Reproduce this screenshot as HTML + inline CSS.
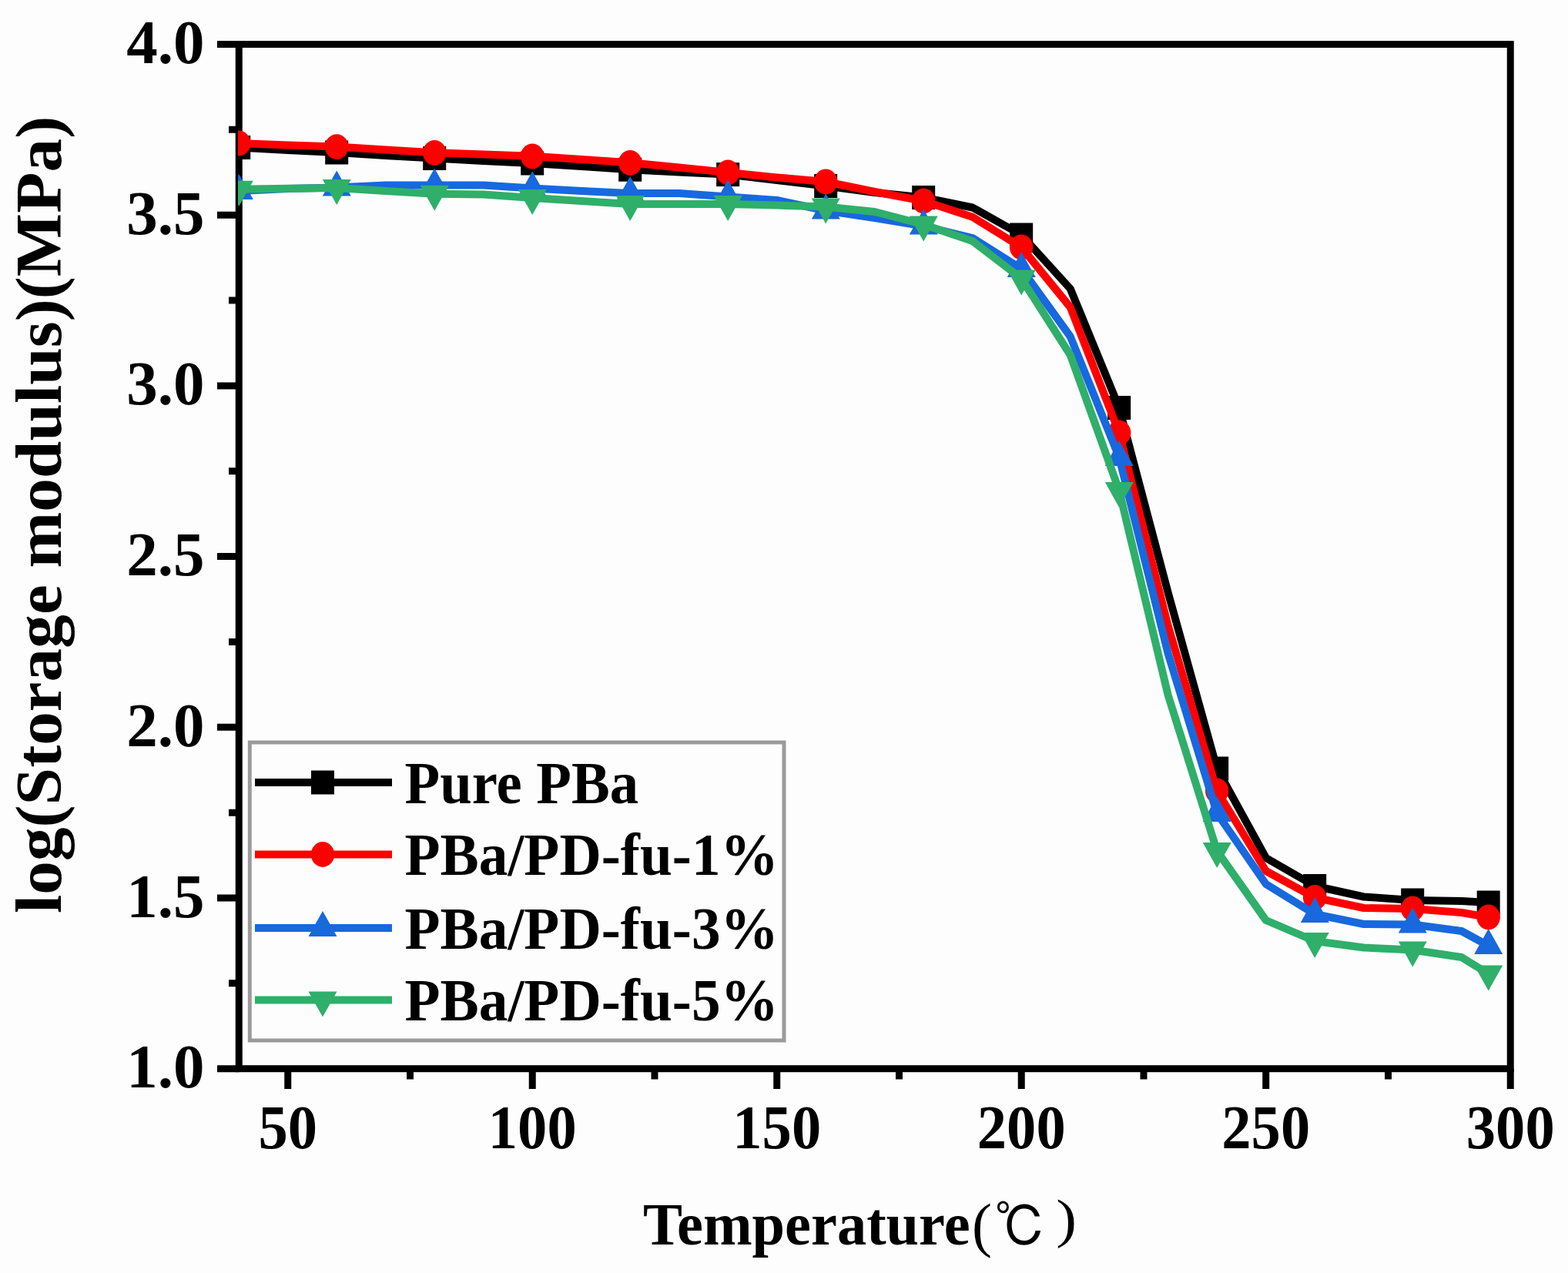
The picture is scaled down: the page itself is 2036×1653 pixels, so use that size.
<!DOCTYPE html><html><head><meta charset="utf-8"><title>log(Storage modulus) vs Temperature</title><style>html,body{margin:0;padding:0;background:#fdfdfd;overflow:hidden}svg{display:block;filter:blur(0.7px)}</style></head><body>
<svg width="2036" height="1653" viewBox="0 0 2036 1653">
<rect width="2036" height="1653" fill="#fdfdfd"/>
<defs><clipPath id="pc"><rect x="309" y="50" width="1660" height="1340"/></clipPath></defs>
<path d="M282,57.50H310.25 M282,279.20H310.25 M282,500.90H310.25 M282,722.60H310.25 M282,944.30H310.25 M282,1166.00H310.25 M282,1387.70H310.25 M297,168.35H310.25 M297,390.05H310.25 M297,611.75H310.25 M297,833.45H310.25 M297,1055.15H310.25 M297,1276.85H310.25 M373.75,1387.7V1414 M691.25,1387.7V1414 M1008.75,1387.7V1414 M1326.25,1387.7V1414 M1643.75,1387.7V1414 M1961.25,1387.7V1414 M532.50,1387.7V1401.5 M850.00,1387.7V1401.5 M1167.50,1387.7V1401.5 M1485.00,1387.7V1401.5 M1802.50,1387.7V1401.5" stroke="#000" stroke-width="9" fill="none"/>
<rect x="310.25" y="57.50" width="1651.00" height="1330.20" fill="none" stroke="#000" stroke-width="9"/>
<g clip-path="url(#pc)">
<path d="M310.2,191.5 L373.8,195.0 L437.2,198.0 L500.8,202.0 L564.2,205.5 L627.8,209.0 L691.2,212.0 L754.8,216.0 L818.2,220.2 L881.8,223.5 L945.2,226.6 L1008.8,234.0 L1072.2,241.5 L1135.8,250.0 L1199.2,256.5 L1262.8,269.5 L1326.2,305.0 L1389.8,375.0 L1453.2,529.5 L1516.8,770.0 L1580.2,998.0 L1643.8,1114.0 L1707.2,1150.5 L1770.8,1164.5 L1834.2,1169.0 L1897.8,1170.0 L1932.7,1172.0" stroke="#000" stroke-width="10" fill="none" stroke-linejoin="round"/>
<rect x="295.2" y="176.0" width="30" height="31" fill="#000"/><rect x="422.2" y="182.5" width="30" height="31" fill="#000"/><rect x="549.2" y="190.0" width="30" height="31" fill="#000"/><rect x="676.2" y="196.5" width="30" height="31" fill="#000"/><rect x="803.2" y="204.7" width="30" height="31" fill="#000"/><rect x="930.2" y="211.1" width="30" height="31" fill="#000"/><rect x="1057.2" y="226.0" width="30" height="31" fill="#000"/><rect x="1184.2" y="241.0" width="30" height="31" fill="#000"/><rect x="1311.2" y="289.5" width="30" height="31" fill="#000"/><rect x="1438.2" y="514.0" width="30" height="31" fill="#000"/><rect x="1565.2" y="982.5" width="30" height="31" fill="#000"/><rect x="1692.2" y="1135.0" width="30" height="31" fill="#000"/><rect x="1819.2" y="1153.5" width="30" height="31" fill="#000"/><rect x="1917.7" y="1156.5" width="30" height="31" fill="#000"/>
<path d="M310.2,186.0 L373.8,188.5 L437.2,190.6 L500.8,194.5 L564.2,198.3 L627.8,200.5 L691.2,202.8 L754.8,207.0 L818.2,211.3 L881.8,217.5 L945.2,224.0 L1008.8,230.5 L1072.2,236.0 L1135.8,249.0 L1199.2,261.0 L1262.8,281.8 L1326.2,321.0 L1389.8,399.0 L1453.2,562.0 L1516.8,813.0 L1580.2,1027.0 L1643.8,1131.0 L1707.2,1165.5 L1770.8,1179.0 L1834.2,1180.0 L1897.8,1185.0 L1932.7,1191.0" stroke="#ff0000" stroke-width="10" fill="none" stroke-linejoin="round"/>
<ellipse cx="310.2" cy="186.0" rx="15.2" ry="16.4" fill="#ff0000"/><ellipse cx="437.2" cy="190.6" rx="15.2" ry="16.4" fill="#ff0000"/><ellipse cx="564.2" cy="198.3" rx="15.2" ry="16.4" fill="#ff0000"/><ellipse cx="691.2" cy="202.8" rx="15.2" ry="16.4" fill="#ff0000"/><ellipse cx="818.2" cy="211.3" rx="15.2" ry="16.4" fill="#ff0000"/><ellipse cx="945.2" cy="224.0" rx="15.2" ry="16.4" fill="#ff0000"/><ellipse cx="1072.2" cy="236.0" rx="15.2" ry="16.4" fill="#ff0000"/><ellipse cx="1199.2" cy="261.0" rx="15.2" ry="16.4" fill="#ff0000"/><ellipse cx="1326.2" cy="321.0" rx="15.2" ry="16.4" fill="#ff0000"/><ellipse cx="1453.2" cy="562.0" rx="15.2" ry="16.4" fill="#ff0000"/><ellipse cx="1580.2" cy="1027.0" rx="15.2" ry="16.4" fill="#ff0000"/><ellipse cx="1707.2" cy="1165.5" rx="15.2" ry="16.4" fill="#ff0000"/><ellipse cx="1834.2" cy="1180.0" rx="15.2" ry="16.4" fill="#ff0000"/><ellipse cx="1932.7" cy="1191.0" rx="15.2" ry="16.4" fill="#ff0000"/>
<path d="M310.2,248.0 L373.8,245.0 L437.2,243.5 L500.8,240.5 L564.2,240.5 L627.8,240.5 L691.2,244.5 L754.8,248.0 L818.2,251.0 L881.8,251.0 L945.2,255.5 L1008.8,260.0 L1072.2,273.5 L1135.8,283.0 L1199.2,293.5 L1262.8,309.0 L1326.2,349.0 L1389.8,437.0 L1453.2,594.0 L1516.8,849.0 L1580.2,1056.0 L1643.8,1148.0 L1707.2,1187.0 L1770.8,1200.0 L1834.2,1200.5 L1897.8,1209.0 L1932.7,1228.0" stroke="#1868de" stroke-width="10" fill="none" stroke-linejoin="round"/>
<polygon points="310.2,226.0 291.8,259.0 328.8,259.0" fill="#1868de"/><polygon points="437.2,221.5 418.8,254.5 455.8,254.5" fill="#1868de"/><polygon points="564.2,218.5 545.8,251.5 582.8,251.5" fill="#1868de"/><polygon points="691.2,222.5 672.8,255.5 709.8,255.5" fill="#1868de"/><polygon points="818.2,229.0 799.8,262.0 836.8,262.0" fill="#1868de"/><polygon points="945.2,233.5 926.8,266.5 963.8,266.5" fill="#1868de"/><polygon points="1072.2,251.5 1053.8,284.5 1090.8,284.5" fill="#1868de"/><polygon points="1199.2,271.5 1180.8,304.5 1217.8,304.5" fill="#1868de"/><polygon points="1326.2,327.0 1307.8,360.0 1344.8,360.0" fill="#1868de"/><polygon points="1453.2,572.0 1434.8,605.0 1471.8,605.0" fill="#1868de"/><polygon points="1580.2,1034.0 1561.8,1067.0 1598.8,1067.0" fill="#1868de"/><polygon points="1707.2,1165.0 1688.8,1198.0 1725.8,1198.0" fill="#1868de"/><polygon points="1834.2,1178.5 1815.8,1211.5 1852.8,1211.5" fill="#1868de"/><polygon points="1932.7,1206.0 1914.2,1239.0 1951.2,1239.0" fill="#1868de"/>
<path d="M310.2,245.7 L373.8,244.8 L437.2,244.0 L500.8,248.0 L564.2,251.7 L627.8,252.5 L691.2,257.0 L754.8,261.0 L818.2,265.0 L881.8,265.0 L945.2,265.0 L1008.8,266.5 L1072.2,268.5 L1135.8,275.0 L1199.2,291.5 L1262.8,313.0 L1326.2,361.6 L1389.8,461.0 L1453.2,637.0 L1516.8,903.0 L1580.2,1105.0 L1643.8,1195.0 L1707.2,1222.0 L1770.8,1230.5 L1834.2,1233.5 L1897.8,1243.0 L1932.7,1264.5" stroke="#2faf6a" stroke-width="10" fill="none" stroke-linejoin="round"/>
<polygon points="310.2,267.7 291.8,234.7 328.8,234.7" fill="#2faf6a"/><polygon points="437.2,266.0 418.8,233.0 455.8,233.0" fill="#2faf6a"/><polygon points="564.2,273.7 545.8,240.7 582.8,240.7" fill="#2faf6a"/><polygon points="691.2,279.0 672.8,246.0 709.8,246.0" fill="#2faf6a"/><polygon points="818.2,287.0 799.8,254.0 836.8,254.0" fill="#2faf6a"/><polygon points="945.2,287.0 926.8,254.0 963.8,254.0" fill="#2faf6a"/><polygon points="1072.2,290.5 1053.8,257.5 1090.8,257.5" fill="#2faf6a"/><polygon points="1199.2,313.5 1180.8,280.5 1217.8,280.5" fill="#2faf6a"/><polygon points="1326.2,383.6 1307.8,350.6 1344.8,350.6" fill="#2faf6a"/><polygon points="1453.2,659.0 1434.8,626.0 1471.8,626.0" fill="#2faf6a"/><polygon points="1580.2,1127.0 1561.8,1094.0 1598.8,1094.0" fill="#2faf6a"/><polygon points="1707.2,1244.0 1688.8,1211.0 1725.8,1211.0" fill="#2faf6a"/><polygon points="1834.2,1255.5 1815.8,1222.5 1852.8,1222.5" fill="#2faf6a"/><polygon points="1932.7,1286.5 1914.2,1253.5 1951.2,1253.5" fill="#2faf6a"/>
</g>
<rect x="324.3" y="964" width="693.7" height="387" fill="none" stroke="#9a9a9a" stroke-width="5"/>
<path d="M331,1016.0H509" stroke="#000" stroke-width="10"/>
<rect x="404.0" y="1000.5" width="30" height="31" fill="#000"/>
<text x="0" y="0" transform="translate(525.5,1042.5) scale(0.958,1)" font-family="Liberation Serif, Times New Roman, serif" font-weight="bold" font-size="78" fill="#000">Pure PBa</text>
<path d="M331,1109.5H509" stroke="#ff0000" stroke-width="10"/>
<ellipse cx="419.0" cy="1109.5" rx="15.2" ry="16.4" fill="#ff0000"/>
<text x="0" y="0" transform="translate(525.5,1135.5) scale(0.966,1)" font-family="Liberation Serif, Times New Roman, serif" font-weight="bold" font-size="78" fill="#000">PBa/PD-fu-1%</text>
<path d="M331,1205.0H509" stroke="#1868de" stroke-width="10"/>
<polygon points="419.0,1183.0 400.5,1216.0 437.5,1216.0" fill="#1868de"/>
<text x="0" y="0" transform="translate(525.5,1231.5) scale(0.966,1)" font-family="Liberation Serif, Times New Roman, serif" font-weight="bold" font-size="78" fill="#000">PBa/PD-fu-3%</text>
<path d="M331,1298.5H509" stroke="#2faf6a" stroke-width="10"/>
<polygon points="419.0,1320.5 400.5,1287.5 437.5,1287.5" fill="#2faf6a"/>
<text x="0" y="0" transform="translate(525.5,1324.5) scale(0.966,1)" font-family="Liberation Serif, Times New Roman, serif" font-weight="bold" font-size="78" fill="#000">PBa/PD-fu-5%</text>
<text x="265.5" y="82.0" text-anchor="end" font-family="Liberation Serif, Times New Roman, serif" font-weight="bold" font-size="81" fill="#000">4.0</text>
<text x="265.5" y="303.7" text-anchor="end" font-family="Liberation Serif, Times New Roman, serif" font-weight="bold" font-size="81" fill="#000">3.5</text>
<text x="265.5" y="525.4" text-anchor="end" font-family="Liberation Serif, Times New Roman, serif" font-weight="bold" font-size="81" fill="#000">3.0</text>
<text x="265.5" y="747.1" text-anchor="end" font-family="Liberation Serif, Times New Roman, serif" font-weight="bold" font-size="81" fill="#000">2.5</text>
<text x="265.5" y="968.8" text-anchor="end" font-family="Liberation Serif, Times New Roman, serif" font-weight="bold" font-size="81" fill="#000">2.0</text>
<text x="265.5" y="1190.5" text-anchor="end" font-family="Liberation Serif, Times New Roman, serif" font-weight="bold" font-size="81" fill="#000">1.5</text>
<text x="265.5" y="1412.2" text-anchor="end" font-family="Liberation Serif, Times New Roman, serif" font-weight="bold" font-size="81" fill="#000">1.0</text>
<text x="0" y="0" transform="translate(373.75,1491) scale(0.945,1)" text-anchor="middle" font-family="Liberation Serif, Times New Roman, serif" font-weight="bold" font-size="81" fill="#000">50</text>
<text x="0" y="0" transform="translate(691.25,1491) scale(0.945,1)" text-anchor="middle" font-family="Liberation Serif, Times New Roman, serif" font-weight="bold" font-size="81" fill="#000">100</text>
<text x="0" y="0" transform="translate(1008.75,1491) scale(0.945,1)" text-anchor="middle" font-family="Liberation Serif, Times New Roman, serif" font-weight="bold" font-size="81" fill="#000">150</text>
<text x="0" y="0" transform="translate(1326.25,1491) scale(0.945,1)" text-anchor="middle" font-family="Liberation Serif, Times New Roman, serif" font-weight="bold" font-size="81" fill="#000">200</text>
<text x="0" y="0" transform="translate(1643.75,1491) scale(0.945,1)" text-anchor="middle" font-family="Liberation Serif, Times New Roman, serif" font-weight="bold" font-size="81" fill="#000">250</text>
<text x="0" y="0" transform="translate(1961.25,1491) scale(0.945,1)" text-anchor="middle" font-family="Liberation Serif, Times New Roman, serif" font-weight="bold" font-size="81" fill="#000">300</text>
<text x="0" y="0" transform="translate(835,1615.5) scale(0.98,1)" font-family="Liberation Serif, Times New Roman, serif" font-weight="bold" font-size="78" fill="#000">Temperature</text>
<text x="1262" y="1617" font-family="Liberation Serif, Times New Roman, serif" font-size="78" fill="#000">(</text>
<text x="0" y="0" transform="translate(1291.6,1619) scale(0.93,1)" font-family="IPAGothic, Noto Sans CJK JP, sans-serif" font-size="72" fill="#000">&#8451;</text>
<text x="0" y="0" transform="translate(1371.2,1605.5) scale(1.15,1)" font-family="Liberation Serif, Times New Roman, serif" font-size="70" fill="#000">)</text>
<text x="0" y="0" transform="translate(79.2,1186) rotate(-90) scale(1.0,0.972)" font-family="Liberation Serif, Times New Roman, serif" font-weight="bold" font-size="87.3" fill="#000">log(Storage modulus)(MPa)</text>
</svg></body></html>
